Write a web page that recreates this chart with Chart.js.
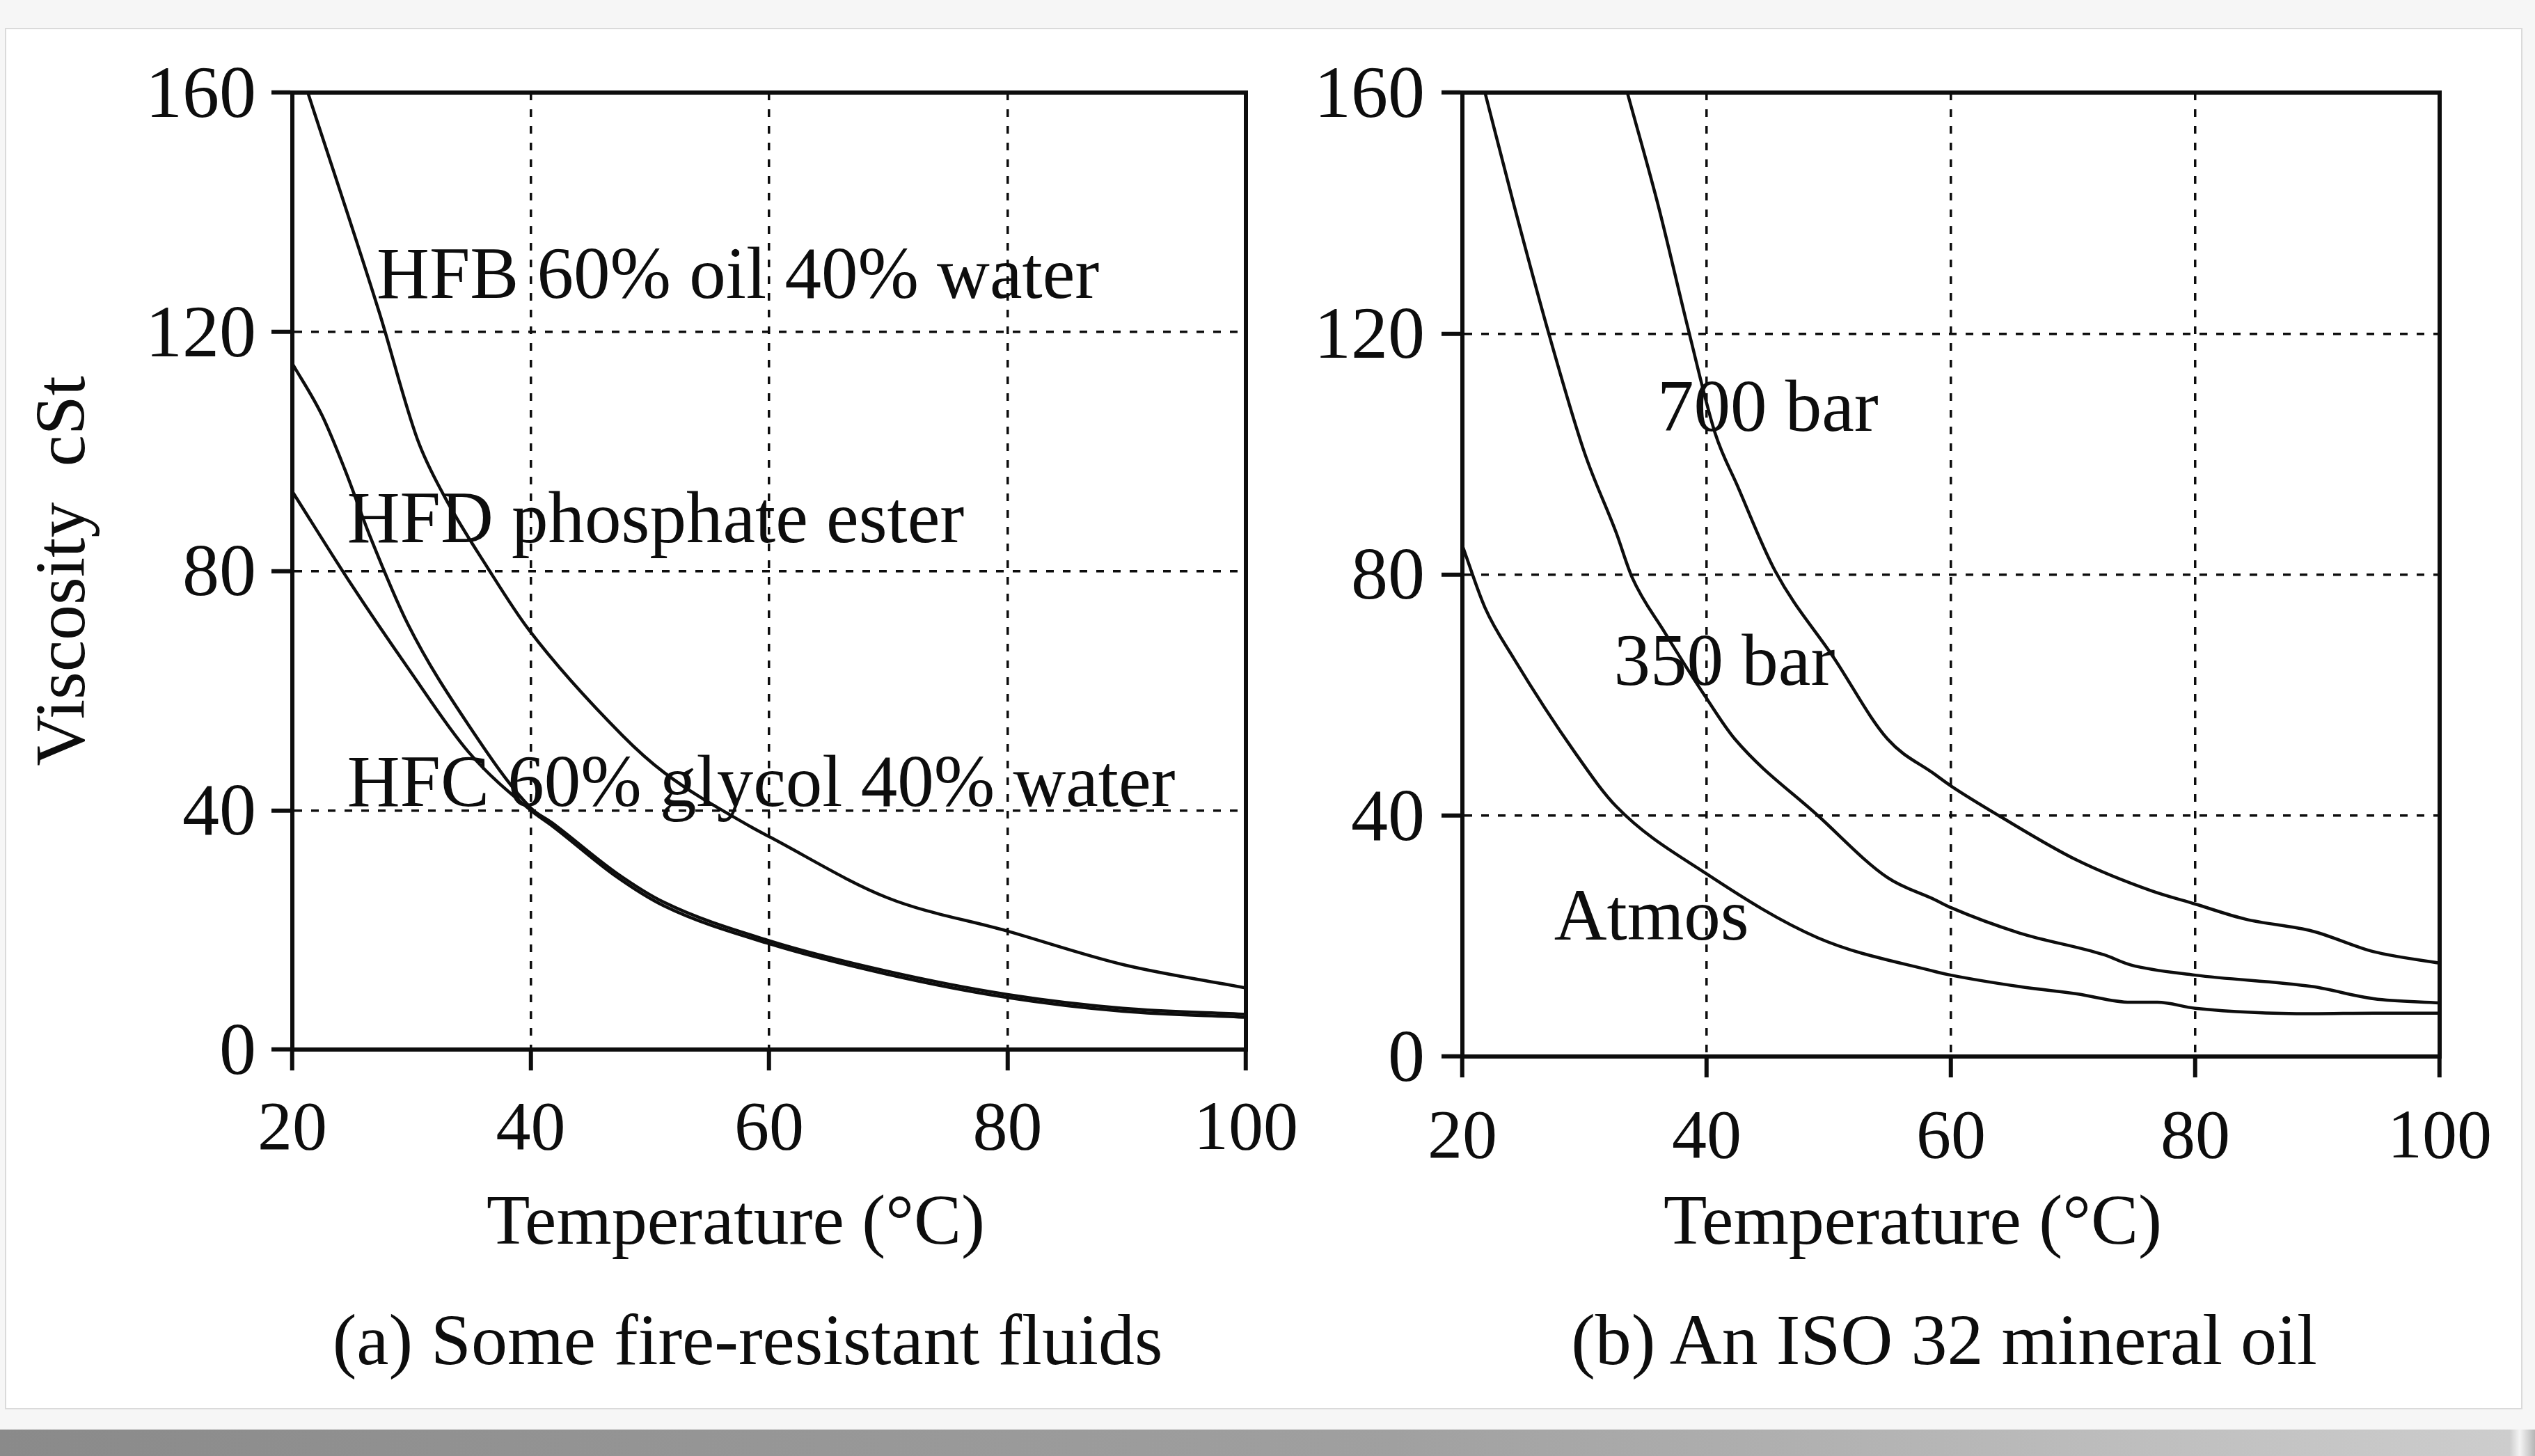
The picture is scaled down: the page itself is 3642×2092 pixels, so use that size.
<!DOCTYPE html>
<html>
<head>
<meta charset="utf-8">
<title>Viscosity against temperature</title>
<script src="https://cdn.jsdelivr.net/npm/chart.js@4.4.1/dist/chart.umd.min.js"></script>
<style>
  html, body { margin: 0; padding: 0; }
  body {
    width: 3642px; height: 2092px; overflow: hidden; position: relative;
    background: #f6f6f6;
    font-family: "Liberation Serif", "Times New Roman", serif;
    color: #0d0d0d;
  }
  .card {
    position: absolute; left: 7px; top: 40px; width: 3613px; height: 1981px;
    background: #fff; border: 2px solid #dadada;
  }
  .shade {
    position: absolute; left: 0; top: 2054px; width: 3642px; height: 38px;
    background: linear-gradient(to right, #8a8a8a 0%, #a0a0a0 55%, #cdcdcd 99%, #f4f4f4 99.4%, #b5b5b5 100%);
  }
  canvas { position: absolute; top: 0; }
  #chart-a { left: 0; }
  #chart-b { left: 1850px; }
  .axis-title, .caption {
    position: absolute; width: 1400px; text-align: center; white-space: nowrap;
  }
  .axis-title { top: 1702px; font-size: 102px; line-height: 102px; }
  .caption { top: 1873px; font-size: 104px; line-height: 104px; }
</style>
</head>
<body>
<div class="card"></div>
<div class="shade"></div>
<canvas id="chart-a" width="1900" height="1880"></canvas>
<canvas id="chart-b" width="1792" height="1880"></canvas>
<div class="axis-title" style="left:357px">Temperature (°C)</div>
<div class="axis-title" style="left:2048px">Temperature (°C)</div>
<div class="caption" style="left:374px">(a) Some fire-resistant fluids</div>
<div class="caption" style="left:2093px">(b) An ISO 32 mineral oil</div>

<script>
/* ---- Values ------------------------------------------------------------- */

const tempTicks = [20, 40, 60, 80, 100];
const viscTicks = [0, 40, 80, 120, 160];

// (a) fire-resistant fluids
const hfbTemp = [21.3, 27.3, 30.5, 32.7, 36.4, 39.8, 47.7, 51.2, 58.5, 60, 69.9, 80, 89.7, 100];
const hfbVisc = [160, 123.2, 102, 92.7, 80.5, 70.3, 52.5, 46.3, 37.2, 35.6, 25.4, 19.8, 14.2, 10.3];

const hfdTemp = [20, 22.5, 24.4, 26.5, 29.7, 34.8, 40, 41.8, 47.2, 51.2, 60, 69.9, 80, 89.7, 100];
const hfdVisc = [114.7, 106, 97, 85.9, 71.1, 54.2, 40.4, 37.9, 29.5, 24.6, 18.2, 13.1, 9.2, 6.9, 5.9];

const hfcTemp = [20, 24.9, 29.7, 34.8, 40, 41.8, 47.2, 51.2, 60, 69.9, 80, 89.7, 100];
const hfcVisc = [93.3, 77.9, 63.8, 49.7, 40, 37.4, 28.9, 24.0, 17.7, 12.6, 8.7, 6.4, 5.4];

// (b) ISO 32 mineral oil at three pressures
const bar700Temp = [33.5, 36.0, 38.6, 40.7, 42.5, 45.6, 50.4, 54.8, 58.7, 60, 63.9, 70.3, 76.4, 80, 84.1, 89.6, 94.6, 100];
const bar700Visc = [160, 141.5, 119.8, 103.4, 94.8, 80.6, 66.2, 52.7, 46.8, 44.9, 40, 32.6, 27.5, 25.3, 22.8, 20.8, 17.4, 15.5];

const bar350Temp = [21.85, 24.2, 27.1, 30.0, 32.6, 33.9, 36.5, 40, 42.3, 49.1, 54.8, 58.7, 60, 65.6, 72.5, 74.7, 80, 89.6, 94.6, 100];
const bar350Visc = [160, 141.5, 119.8, 100.2, 86.9, 79.5, 70.6, 59.4, 52.7, 40, 29.7, 26.0, 24.7, 20.5, 16.9, 15.2, 13.5, 11.6, 9.6, 8.9];

const atmosTemp = [20, 21.85, 24.2, 29.2, 32.6, 40, 49.1, 58.7, 60, 65.6, 70.3, 74.7, 76.9, 80, 89.6, 94.6, 100];
const atmosVisc = [84.8, 74.5, 66.1, 50.5, 41.5, 30.3, 19.7, 14.1, 13.5, 11.6, 10.4, 9.0, 9.0, 8.0, 7.1, 7.2, 7.2];

// curve labels, anchored in data units (left end of the text baseline)
const labelsA = [
  { text: "HFB 60% oil 40% water", t: 27.07, v: 125.7 },
  { text: "HFD phosphate ester", t: 24.6, v: 84.8 },
  { text: "HFC 60% glycol 40% water", t: 24.6, v: 40.7 },
];
const labelsB = [
  { text: "700 bar", t: 35.95, v: 103.9 },
  { text: "350 bar", t: 32.4, v: 61.7 },
  { text: "Atmos", t: 27.5, v: 19.4 },
];

/* ---- Look --------------------------------------------------------------- */

const INK = "#0d0d0d";
const SERIF = '"Liberation Serif", "Times New Roman", serif';

function lineSet(temps, visc) {
  return {
    data: temps.map((t, i) => ({ x: t, y: visc[i] })),
    borderColor: INK,
    borderWidth: 4.5,
    pointRadius: 0,
    cubicInterpolationMode: "monotone",
    fill: false,
  };
}

// solid box round the plot area (the top and right edges have no axis)
const framePlugin = {
  id: "frame",
  afterDraw(chart) {
    const { ctx, chartArea: a } = chart;
    ctx.save();
    ctx.strokeStyle = INK;
    ctx.lineWidth = 6;
    ctx.strokeRect(a.left, a.top, a.right - a.left, a.bottom - a.top);
    ctx.restore();
  },
};

function curveLabels(items) {
  return {
    id: "curveLabels",
    afterDatasetsDraw(chart) {
      const { ctx, scales } = chart;
      ctx.save();
      ctx.fillStyle = INK;
      ctx.font = "105px " + SERIF;
      ctx.textAlign = "left";
      ctx.textBaseline = "alphabetic";
      items.forEach((it) => {
        ctx.fillText(it.text, scales.x.getPixelForValue(it.t), scales.y.getPixelForValue(it.v));
      });
      ctx.restore();
    },
  };
}

function buildChart(id, datasets, labels, cfg) {
  const ctx = document.getElementById(id).getContext("2d");
  const xTickFont = { family: SERIF, size: 100, lineHeight: 1.2 };
  const yTickFont = { family: SERIF, size: 106, lineHeight: 1.2 };
  const titleFont = { family: SERIF, size: 102, lineHeight: 1.2 };
  const grid = {
    color: INK,
    lineWidth: 3.5,
    tickLength: 30,
    tickWidth: 6,
    tickColor: INK,
    tickBorderDash: [],
  };
  const border = { display: true, color: INK, width: 6, dash: [11, 13] };

  return new Chart(ctx, {
    type: "line",
    data: { datasets },
    options: {
      responsive: false,
      animation: false,
      devicePixelRatio: 1,
      events: [],
      layout: { padding: { top: 133, left: 0, right: cfg.padRight, bottom: 0 } },
      plugins: { legend: { display: false }, tooltip: { enabled: false } },
      scales: {
        x: {
          type: "linear",
          min: tempTicks[0],
          max: tempTicks[tempTicks.length - 1],
          afterBuildTicks: (s) => { s.ticks = tempTicks.map((v) => ({ value: v })); },
          ticks: { padding: cfg.xTickPad, font: xTickFont, color: INK, maxRotation: 0, autoSkip: false },
          grid,
          border,
          afterFit: (s) => { s.height = cfg.xHeight; },
        },
        y: {
          type: "linear",
          min: viscTicks[0],
          max: viscTicks[viscTicks.length - 1],
          afterBuildTicks: (s) => { s.ticks = viscTicks.map((v) => ({ value: v })); },
          ticks: { padding: cfg.yTickPad, font: yTickFont, color: INK, labelOffset: 7 },
          grid,
          border,
          title: {
            display: !!cfg.yTitle,
            text: cfg.yTitle || "",
            font: titleFont,
            color: INK,
            padding: { top: 33, bottom: 0 },
          },
          afterFit: (s) => { s.width = cfg.yWidth; },
        },
      },
    },
    plugins: [framePlugin, curveLabels(labels)],
  });
}

buildChart(
  "chart-a",
  [lineSet(hfbTemp, hfbVisc), lineSet(hfdTemp, hfdVisc), lineSet(hfcTemp, hfcVisc)],
  labelsA,
  { yWidth: 420, xHeight: 372, padRight: 110, xTickPad: 27, yTickPad: 22, yTitle: "Viscosity  cSt" }
);

buildChart(
  "chart-b",
  [lineSet(bar700Temp, bar700Visc), lineSet(bar350Temp, bar350Visc), lineSet(atmosTemp, atmosVisc)],
  labelsB,
  { yWidth: 251, xHeight: 362, padRight: 137, xTickPad: 29, yTickPad: 24 }
);
</script>
</body>
</html>
